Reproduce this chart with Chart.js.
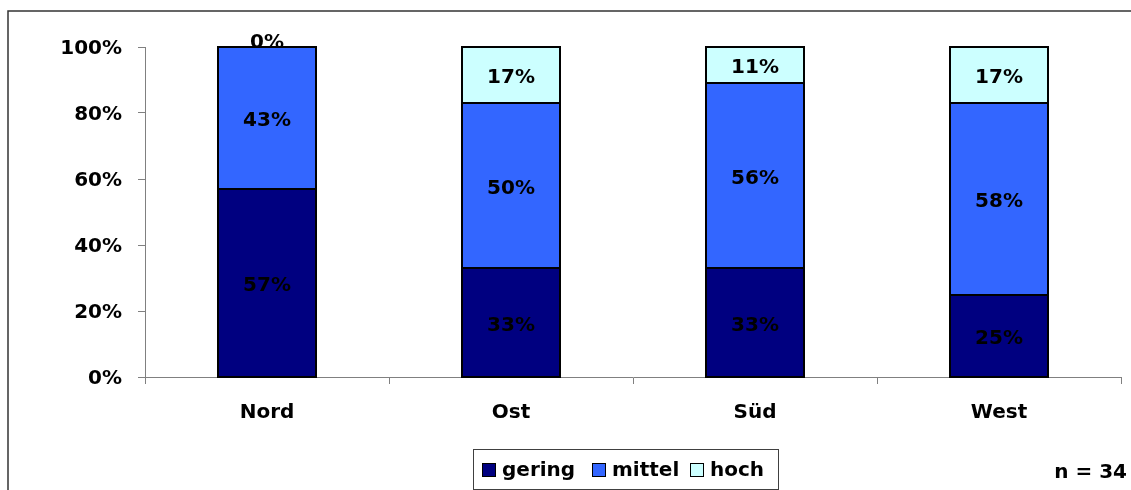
<!DOCTYPE html>
<html lang="de">
<head>
<meta charset="UTF-8" />
<title>Verteilung nach Region</title>
<style>
  body {
    margin: 0;
    background: #fff;
    overflow: hidden;
  }
  canvas {
    display: block;
  }
</style>
</head>
<body>
<canvas id="chart" width="1131" height="490"></canvas>

<script src="https://cdn.jsdelivr.net/npm/chart.js"></script>
<script>
const regions = ["Nord", "Ost", "Süd", "West"];
const gering = [57, 33, 33, 25];
const mittel = [43, 50, 56, 58];
const hoch = [0, 17, 11, 17];
const yTicks = [0, 20, 40, 60, 80, 100];
const sampleNote = "n = 34";

const FONT = "DejaVu Sans";

// frame around the whole chart (only top and left edges fall on the canvas)
const framePlugin = {
  id: "frame",
  beforeDraw(chart) {
    const ctx = chart.ctx;
    ctx.save();
    ctx.strokeStyle = "#333";
    ctx.lineWidth = 1.5;
    ctx.beginPath();
    ctx.moveTo(8, chart.height);
    ctx.lineTo(8, 11);
    ctx.lineTo(chart.width, 11);
    ctx.stroke();
    ctx.restore();
  }
};

// black outline per stack, separators between segments, percentage labels
const segmentLabels = {
  id: "segmentLabels",
  afterDatasetsDraw(chart) {
    const ctx = chart.ctx;
    const n = chart.data.datasets.length;
    const bottom = chart.getDatasetMeta(0).data;
    const top = chart.getDatasetMeta(n - 1).data;
    ctx.save();
    ctx.strokeStyle = "#000";
    ctx.lineWidth = 2;
    bottom.forEach((bar, j) => {
      const x0 = Math.round(bar.x - bar.width / 2);
      const x1 = Math.round(bar.x + bar.width / 2);
      const y0 = Math.round(top[j].y);
      const y1 = Math.round(bar.base);
      ctx.strokeRect(x0, y0, x1 - x0, y1 - y0);
      for (let i = 1; i < n; i++) {
        const seg = chart.getDatasetMeta(i).data[j];
        const y = Math.round(seg.base);
        ctx.beginPath();
        ctx.moveTo(x0, y);
        ctx.lineTo(x1, y);
        ctx.stroke();
      }
    });

    ctx.font = "bold 20px '" + FONT + "'";
    ctx.fillStyle = "#000";
    ctx.textAlign = "center";
    ctx.textBaseline = "middle";
    chart.data.datasets.forEach((ds, i) => {
      chart.getDatasetMeta(i).data.forEach((bar, j) => {
        const v = ds.data[j];
        let y = (bar.y + bar.base) / 2;
        if (v === 0) y -= 7;
        ctx.fillText(v + "%", bar.x, y + 3);
      });
    });
    ctx.restore();
  }
};

// boxed legend at the bottom plus the sample size note
const legendBox = {
  id: "legendBox",
  afterDraw(chart) {
    const ctx = chart.ctx;
    ctx.save();
    ctx.strokeStyle = "#404040";
    ctx.lineWidth = 1;
    ctx.strokeRect(473.5, 449.5, 305, 40);
    ctx.font = "bold 20px '" + FONT + "'";
    ctx.textBaseline = "middle";
    const starts = [482, 592, 690];
    chart.data.datasets.forEach((ds, i) => {
      const x = starts[i];
      ctx.fillStyle = ds.backgroundColor;
      ctx.fillRect(x, 463, 13, 13);
      ctx.strokeStyle = "#000";
      ctx.strokeRect(x + 0.5, 463.5, 13, 13);
      ctx.fillStyle = "#000";
      ctx.fillText(ds.label, x + 20, 471);
    });
    ctx.textAlign = "right";
    ctx.fillText(sampleNote, 1127, 473);
    ctx.restore();
  }
};

new Chart(document.getElementById("chart"), {
  type: "bar",
  data: {
    labels: regions,
    datasets: [
      { label: "gering", data: gering, backgroundColor: "#000080" },
      { label: "mittel", data: mittel, backgroundColor: "#3366FF" },
      { label: "hoch", data: hoch, backgroundColor: "#CCFFFF" }
    ].map(d => Object.assign(d, {
      borderWidth: 0,
      inflateAmount: 0.5,
      barPercentage: 0.4,
      categoryPercentage: 1
    }))
  },
  options: {
    responsive: false,
    animation: false,
    layout: { padding: { top: 47, right: 10, left: 0, bottom: 0 } },
    plugins: {
      legend: { display: false },
      tooltip: { enabled: false }
    },
    scales: {
      x: {
        stacked: true,
        offset: true,
        grid: {
          offset: true,
          drawOnChartArea: false,
          tickLength: 7,
          color: "#808080"
        },
        border: { color: "#808080", width: 1 },
        ticks: {
          color: "#000",
          padding: 17,
          font: { family: FONT, size: 20, weight: "bold" }
        },
        afterFit(scale) { scale.height = 113; }
      },
      y: {
        stacked: true,
        min: 0,
        max: 100,
        afterBuildTicks(scale) {
          scale.ticks = yTicks.map(v => ({ value: v }));
        },
        grid: {
          drawOnChartArea: false,
          tickLength: 7,
          color: "#808080"
        },
        border: { color: "#808080", width: 1 },
        ticks: {
          color: "#000",
          padding: 16,
          labelOffset: 2,
          callback: v => v + "%",
          font: { family: FONT, size: 20, weight: "bold" }
        },
        afterFit(scale) { scale.width = 145; }
      }
    }
  },
  plugins: [framePlugin, segmentLabels, legendBox]
});
</script>
</body>
</html>
